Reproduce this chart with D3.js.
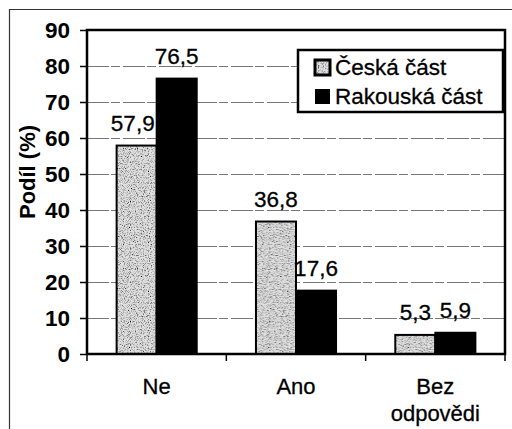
<!DOCTYPE html>
<html>
<head>
<meta charset="utf-8">
<script src="https://cdn.jsdelivr.net/npm/d3@7"></script>
<style>
  body { margin: 0; background: #fff; }
  text { font-family: "Liberation Sans", Arial, sans-serif; }
</style>
</head>
<body>
<div id="vis"></div>
<script>
// data
var categories = [["Ne"], ["Ano"], ["Bez", "odpovědi"]];
var catKeys = ["Ne", "Ano", "Bez odpovědi"];
var seriesNames = ["Česká část", "Rakouská část"];
var ceska = [57.9, 36.8, 5.3];
var rakouska = [76.5, 17.6, 5.9];
var yTicks = [0, 10, 20, 30, 40, 50, 60, 70, 80, 90];

var width = 512, height = 429;
var plot = { left: 87, right: 505, top: 30, bottom: 354 };

var svg = d3.select("#vis").append("svg")
    .attr("width", width)
    .attr("height", height);

// grainy texture for the czech bars
var defs = svg.append("defs");
var filt = defs.append("filter").attr("id", "grain")
    .attr("x", 0).attr("y", 0).attr("width", 1).attr("height", 1);
filt.append("feTurbulence").attr("type", "fractalNoise")
    .attr("baseFrequency", 0.85).attr("numOctaves", 2).attr("seed", 3).attr("result", "n");
filt.append("feColorMatrix").attr("type", "matrix")
    .attr("values", "0 0 0 0 0  0 0 0 0 0  0 0 0 0 0  0 0 0 -2.6 1.45")
    .attr("result", "dots");
filt.append("feFlood").attr("flood-color", "#e2e2e2").attr("result", "bg");
filt.append("feMerge").selectAll("feMergeNode")
    .data(["bg", "dots"]).enter().append("feMergeNode").attr("in", function(d) { return d; });

var pat = defs.append("pattern").attr("id", "czech")
    .attr("patternUnits", "userSpaceOnUse")
    .attr("width", 120).attr("height", 120);
pat.append("rect").attr("width", 120).attr("height", 120)
    .attr("filter", "url(#grain)");

// outer frame
svg.append("path")
    .attr("d", "M9.5,429 L9.5,9.5 L512,9.5")
    .attr("fill", "none")
    .attr("stroke", "#333")
    .attr("stroke-width", 1.2);

var y = d3.scaleLinear().domain([0, 90]).range([plot.bottom, plot.top]);
var x0 = d3.scaleBand().domain(catKeys).range([plot.left, plot.right]);
var x1 = d3.scaleBand().domain(seriesNames).range([0, x0.bandwidth()])
    .paddingInner(0).paddingOuter(0.74);

// gridlines
svg.append("g").selectAll("line")
    .data(yTicks.slice(1, -1))
    .enter().append("line")
    .attr("x1", plot.left).attr("x2", plot.right)
    .attr("y1", function(d) { return Math.round(y(d)) + 0.5; })
    .attr("y2", function(d) { return Math.round(y(d)) + 0.5; })
    .attr("stroke", "#777")
    .attr("stroke-width", 1)
    .attr("stroke-dasharray", "22,2,9,3");

// bars
var rows = catKeys.map(function(k, i) {
    return [
        { cat: k, s: seriesNames[0], v: ceska[i], other: rakouska[i] },
        { cat: k, s: seriesNames[1], v: rakouska[i], other: ceska[i] }
    ];
});

var groups = svg.append("g").selectAll("g")
    .data(rows)
    .enter().append("g")
    .attr("transform", function(d) { return "translate(" + x0(d[0].cat) + ",0)"; });

groups.selectAll("rect")
    .data(function(d) { return d; })
    .enter().append("rect")
    .attr("x", function(d) { return x1(d.s); })
    .attr("y", function(d) { return y(d.v); })
    .attr("width", x1.bandwidth())
    .attr("height", function(d) { return y(0) - y(d.v); })
    .attr("fill", function(d) { return d.s == seriesNames[0] ? "url(#czech)" : "#000"; })
    .attr("stroke", "#000")
    .attr("stroke-width", 2);

// value labels
groups.selectAll("text")
    .data(function(d) { return d; })
    .enter().append("text")
    .attr("x", function(d) { return x1(d.s) + x1.bandwidth() / 2; })
    .attr("y", function(d) { return y(d.v) - 15; })
    .attr("text-anchor", "middle")
    .attr("font-size", 22.5)
    .attr("fill", "#000")
    .attr("stroke", "#000")
    .attr("stroke-width", 0.3)
    .text(function(d) { return d3.format(".1f")(d.v).replace(".", ","); })
    .each(function(d) {
        // keep the left label clear of a taller neighbouring bar
        if (d.s == seriesNames[0] && d.other > d.v) {
            var bb = this.getBBox();
            var edge = x1(seriesNames[1]) - 2;
            if (bb.x + bb.width > edge) {
                d3.select(this).attr("x", edge - bb.width / 2);
            }
        }
    });

// plot frame
svg.append("rect")
    .attr("x", plot.left).attr("y", plot.top)
    .attr("width", plot.right - plot.left)
    .attr("height", plot.bottom - plot.top)
    .attr("fill", "none")
    .attr("stroke", "#000")
    .attr("stroke-width", 2.5);

// y axis
var yAxis = d3.axisLeft(y).tickValues(yTicks).tickSize(7).tickPadding(10);
var yg = svg.append("g")
    .attr("transform", "translate(" + plot.left + ",0)")
    .call(yAxis);
yg.select(".domain").remove();
yg.selectAll("line").attr("stroke", "#000").attr("stroke-width", 1.5);
yg.selectAll("text")
    .attr("font-size", 22.5)
    .attr("font-weight", "bold")
    .attr("font-family", "Liberation Sans, Arial, sans-serif")
    .attr("fill", "#000");

// x axis ticks at band edges
var edges = catKeys.map(function(k) { return x0(k); }).concat([plot.right]);
svg.append("g").selectAll("line")
    .data(edges)
    .enter().append("line")
    .attr("x1", function(d) { return d; }).attr("x2", function(d) { return d; })
    .attr("y1", plot.bottom).attr("y2", plot.bottom + 7)
    .attr("stroke", "#000")
    .attr("stroke-width", 1.5);

// category labels
var cl = svg.append("g").selectAll("text")
    .data(categories)
    .enter().append("text")
    .attr("x", function(d, i) { return x0(catKeys[i]) + x0.bandwidth() / 2; })
    .attr("y", 394)
    .attr("text-anchor", "middle")
    .attr("font-size", 22)
    .attr("fill", "#000")
    .attr("stroke", "#000")
    .attr("stroke-width", 0.3);
cl.selectAll("tspan")
    .data(function(d) { return d; })
    .enter().append("tspan")
    .attr("x", function() { return d3.select(this.parentNode).attr("x"); })
    .attr("dy", function(d, i) { return i == 0 ? 0 : 27; })
    .text(function(d) { return d; });

// y title
svg.append("text")
    .attr("transform", "translate(35,172) rotate(-90)")
    .attr("text-anchor", "middle")
    .attr("font-size", 22)
    .attr("font-weight", "bold")
    .attr("fill", "#000")
    .text("Podíl (%)");

// legend
var legend = svg.append("g").attr("transform", "translate(298,50)");
legend.append("rect")
    .attr("width", 205).attr("height", 62)
    .attr("fill", "#fff")
    .attr("stroke", "#000")
    .attr("stroke-width", 2.5);

var li = legend.selectAll("g.item")
    .data(seriesNames)
    .enter().append("g")
    .attr("class", "item")
    .attr("transform", function(d, i) { return "translate(17," + (10 + i * 29) + ")"; });

li.append("rect")
    .attr("width", 15).attr("height", 15)
    .attr("fill", function(d, i) { return i == 0 ? "url(#czech)" : "#000"; })
    .attr("stroke", "#000")
    .attr("stroke-width", function(d, i) { return i == 0 ? 3 : 0; });

li.append("text")
    .attr("x", 20)
    .attr("y", 15)
    .attr("font-size", 22.5)
    .attr("fill", "#000")
    .attr("stroke", "#000")
    .attr("stroke-width", 0.3)
    .text(function(d) { return d; });
</script>
</body>
</html>
